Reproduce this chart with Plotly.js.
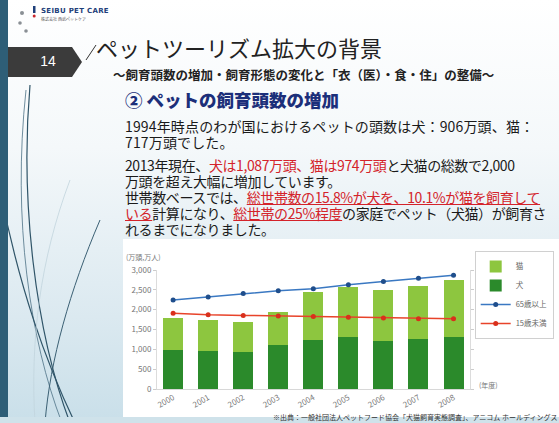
<!DOCTYPE html>
<html><head><meta charset="utf-8">
<script src="https://cdn.plot.ly/plotly-3.0.1.min.js"></script>
<style>
html,body{margin:0;padding:0;width:559px;height:423px;overflow:hidden;font-family:"Noto Sans CJK JP","Noto Sans",sans-serif;}
#slide{position:absolute;left:0;top:0;width:559px;height:423px;background:linear-gradient(180deg,#ffffff 0%,#f4f8fa 35%,#dbe9f0 75%,#c9dfe9 100%);overflow:hidden;}
#stripe{position:absolute;left:0;top:0;width:8px;height:423px;background:#2e5e77;}
.t{position:absolute;white-space:nowrap;}
.b{position:absolute;left:125px;white-space:nowrap;font-size:14px;height:15px;line-height:15px;color:#1a1a1a;}
.red{color:#d4232a;}
.ul{color:#d4232a;text-decoration:underline;text-decoration-color:#d4232a;}
#chart{position:absolute;left:123px;top:239px;width:470px;height:178px;}
</style></head>
<body>
<div id="slide">
<svg width="559" height="423" style="position:absolute;left:0;top:0">
 <path d="M30,85 C20,200 35,330 70,423" stroke="#2f5468" stroke-width="1.2" fill="none"/>
 <path d="M26,90 C12,220 30,340 62,423" stroke="#4d7185" stroke-width="0.8" fill="none"/>
 <path d="M0,190 C20,290 45,360 75,423" stroke="#2f5468" stroke-width="1.2" fill="none"/>
 <path d="M100,220 C70,290 50,360 45,423" stroke="#3b6074" stroke-width="1" fill="none"/>
 <path d="M70,180 C40,260 30,340 35,423" stroke="#c2d4dd" stroke-width="0.8" fill="none"/>
 <path d="M96,45 L86,60" stroke="#333" stroke-width="1" fill="none"/>
 <polygon points="0,47 72,47 82,62 72,77 0,77" fill="#3b3b3b"/>
 <circle cx="22" cy="13" r="2" fill="#8a8f94"/>
 <circle cx="20" cy="23" r="1.8" fill="#8a8f94"/>
 <circle cx="26" cy="31" r="1.8" fill="#8a8f94"/>
 <rect x="33" y="6" width="2.5" height="7" fill="#1e3f7a"/>
 <circle cx="34.2" cy="16" r="1.5" fill="#c8262d"/>
</svg>
<div id="stripe"></div>
<div class="t" style="left:41px;top:7px;font-family:'DejaVu Sans';font-weight:bold;font-size:7px;color:#1e3f7a;letter-spacing:0.3px">SEIBU PET CARE</div>
<div class="t" style="left:41px;top:16px;font-size:4px;color:#555">株式会社 西武ペットケア</div>
<div class="t" style="left:36px;top:53px;width:24px;text-align:center;font-family:'Liberation Sans';font-size:14px;color:#fff">14</div>
<div class="t" style="left:96px;top:33px;font-size:22px;line-height:28px;color:#222">ペットツーリズム拡大の背景</div>
<div class="t" style="left:113px;top:66px;font-size:12.5px;line-height:18px;color:#222;font-weight:bold;">～飼育頭数の増加・飼育形態の変化と「衣（医）・食・住」の整備～</div>
<div class="t" style="left:125px;top:89px;font-size:17.5px;line-height:22px;color:#1c2f7a;font-weight:900">② ペットの飼育頭数の増加</div>
<div class="b" style="top:119px;letter-spacing:0.15px">1994年時点のわが国におけるペットの頭数は犬：906万頭、猫：</div>
<div class="b" style="top:135px;letter-spacing:0.15px">717万頭でした。</div>
<div class="b" style="top:158px;letter-spacing:-0.4px">2013年現在、<span class="red">犬は1,087万頭、猫は974万頭</span>と犬猫の総数で2,000</div>
<div class="b" style="top:174px;letter-spacing:-0.4px">万頭を超え大幅に増加しています。</div>
<div class="b" style="top:190px;letter-spacing:-0.4px">世帯数ベースでは、<span class="ul">総世帯数の15.8%が犬を、10.1%が猫を飼育して</span></div>
<div class="b" style="top:206px;letter-spacing:-0.4px"><span class="ul">いる</span>計算になり、<span class="ul">総世帯の25%程度</span>の家庭でペット（犬猫）が飼育さ</div>
<div class="b" style="top:222px;letter-spacing:-0.4px">れるまでになりました。</div>
<div id="chart"></div>
<div style="position:absolute;left:0;top:417px;width:559px;height:6px;background:#cfe2ea"></div>
<div class="t" style="left:273px;top:412px;font-size:7px;line-height:10px;color:#333">※出典：一般社団法人ペットフード協会「犬猫飼育実態調査」、アニコム ホールディングス</div>
</div>
<script>
var years = ['2000','2001','2002','2003','2004','2005','2006','2007','2008'];
var dogs = [981, 967, 944, 1107, 1237, 1315, 1213, 1260, 1306];
var cats = [812, 773, 734, 842, 1199, 1253, 1277, 1331, 1439];
var over65 = [2243, 2320, 2405, 2475, 2529, 2629, 2707, 2791, 2870];
var under15 = [1910, 1872, 1856, 1840, 1826, 1810, 1793, 1770, 1770];
var yTicks = [0, 500, 1000, 1500, 2000, 2500, 3000];

var traces = [
 {type:'bar', name:'犬', x:years, y:dogs, marker:{color:'#2b8a2b'}, legendrank:2},
 {type:'bar', name:'猫', x:years, y:cats, marker:{color:'#8dc63f'}, legendrank:1},
 {type:'scatter', mode:'lines+markers', name:'65歳以上', x:years, y:over65,
  line:{color:'#3a78c2', width:1.5}, marker:{color:'#1f4e8c', size:5}, legendrank:3},
 {type:'scatter', mode:'lines+markers', name:'15歳未満', x:years, y:under15,
  line:{color:'#e8432a', width:1.5}, marker:{color:'#d9301c', size:5}, legendrank:4}
];
var layout = {
 width:470, height:178,
 margin:{l:34, r:123, t:21, b:28},
 paper_bgcolor:'#ffffff', plot_bgcolor:'#ffffff',
 barmode:'stack', bargap:0.43,
 font:{family:'"Noto Sans CJK JP", "Noto Sans", sans-serif', size:8, color:'#666'},
 xaxis:{type:'category', range:[-0.46, 8.47], tickangle:-30, showline:true, linecolor:'#d8d8d8', linewidth:1,
   ticks:'', tickfont:{size:8, color:'#777'}, automargin:false, fixedrange:true},
 yaxis:{range:[0, 3000], tickvals:yTicks, tickformat:',', showgrid:false, zeroline:false,
   showline:true, linecolor:'#dcdcdc', mirror:'ticks', ticks:'outside', ticklen:3, tickcolor:'#ccc',
   tickfont:{size:8, color:'#777'}, automargin:false, fixedrange:true},
 showlegend:true,
 legend:{x:1.015, y:1.16, xanchor:'left', yanchor:'top', bgcolor:'#ffffff', bordercolor:'#d0d0d0', borderwidth:1,
   font:{size:7.5, color:'#666'}, traceorder:'normal', itemwidth:30, tracegroupgap:0},
 annotations:[
  {text:'(年度)', xref:'paper', yref:'paper', x:1.022, y:0.03, xanchor:'left', yanchor:'middle', showarrow:false, font:{size:7, color:'#777'}},
  {text:'(万頭,万人)', xref:'paper', yref:'paper', x:-0.105, y:1.11, xanchor:'left', yanchor:'middle', showarrow:false, font:{size:7, color:'#777'}}
 ]
};
Plotly.newPlot('chart', traces, layout, {displayModeBar:false, staticPlot:true});
</script>
</body></html>
